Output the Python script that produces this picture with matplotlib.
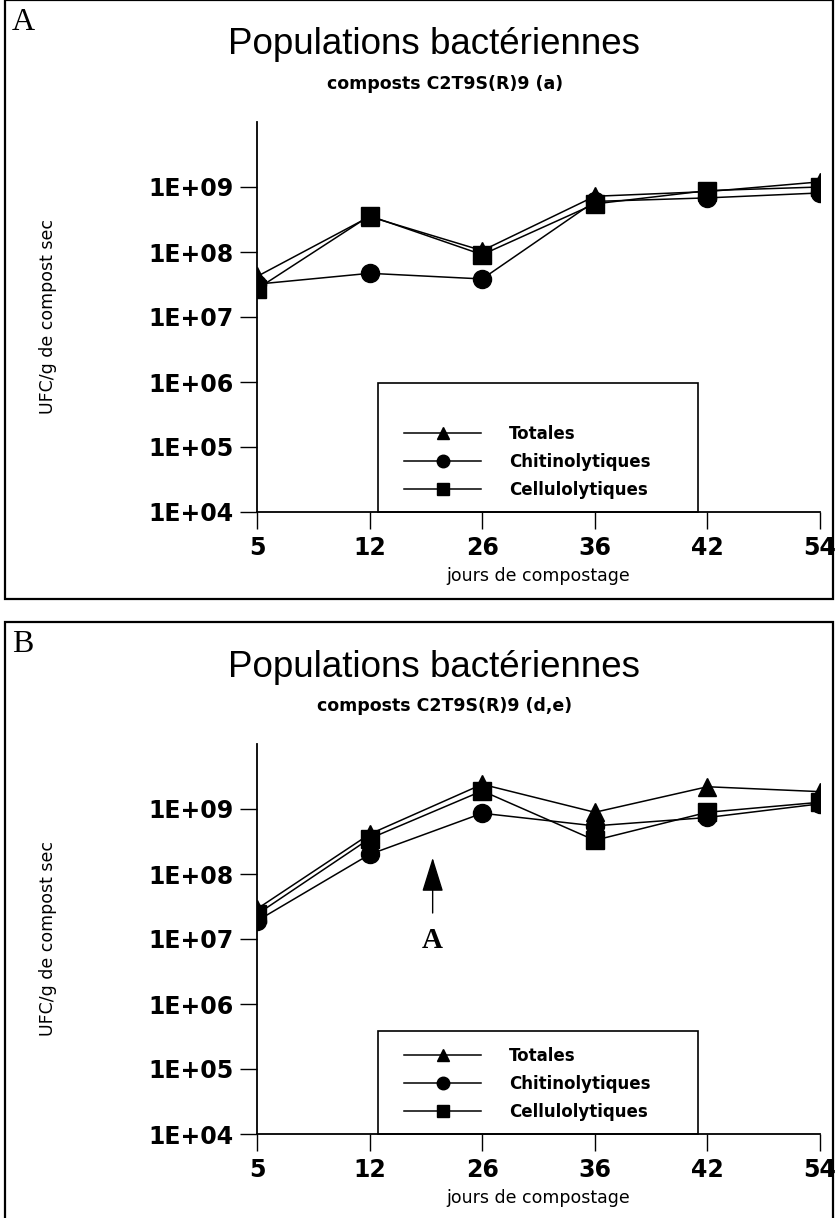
import matplotlib.pyplot as plt
from matplotlib.patches import Rectangle
from matplotlib.lines import Line2D
import numpy as np

################### Données #######################
jours = ['5', '12', '26', '36', '42', '54']
series = ['Totales', 'Chitinolytiques', 'Cellulolytiques']
marqueurs = ['^', 'o', 's']

# panneau A : composts C2T9S(R)9 (a)
totales_a = [4.2e7, 3.5e8, 1.05e8, 7.2e8, 8.5e8, 1.2e9]
chitino_a = [3.2e7, 4.7e7, 3.85e7, 6.0e8, 6.8e8, 8.1e8]
cellulo_a = [2.7e7, 3.6e8, 9.1e7, 5.5e8, 8.8e8, 1.0e9]

# panneau B : composts C2T9S(R)9 (d,e)
totales_b = [2.9e7, 4.1e8, 2.4e9, 8.9e8, 2.2e9, 1.85e9]
chitino_b = [1.9e7, 2.0e8, 8.6e8, 5.5e8, 7.4e8, 1.2e9]
cellulo_b = [2.4e7, 3.5e8, 1.9e9, 3.3e8, 8.9e8, 1.27e9]

yticks = [1e4, 1e5, 1e6, 1e7, 1e8, 1e9]
ytick_labels = ['1E+04', '1E+05', '1E+06', '1E+07', '1E+08', '1E+09']

W, H = 835, 1218
fig = plt.figure(figsize=(W / 100, H / 100), dpi=100)


def fx(px):
    return px / W


def fy(px):
    return 1 - px / H


def panneau(top, lettre, sous_titre, valeurs, fleche=False):
    # cadre du panneau
    fig.add_artist(Rectangle((fx(5), fy(top + 599)), fx(828), 599 / H,
                             fill=False, lw=1.6, ec='black',
                             transform=fig.transFigure))
    fig.text(fx(12), fy(top + 22), lettre, family='Liberation Serif',
             fontsize=23, va='center', ha='left')
    fig.text(fx(434), fy(top + 45), 'Populations bactériennes',
             family='Liberation Sans', fontsize=26.5, va='center', ha='center')
    fig.text(fx(445), fy(top + 84), sous_titre, family='DejaVu Sans',
             weight='bold', fontsize=12.5, va='center', ha='center')

    ax = fig.add_axes([fx(257), fy(top + 512), fx(563), (512 - 122) / H])
    x = np.arange(len(jours))
    for v, m in zip(valeurs, marqueurs):
        ax.plot(x, v, color='black', lw=1.1, marker=m, ms=13,
                mfc='black', mec='black')
    ax.set_yscale('log')
    ax.set_ylim(1e4, 1e10)
    ax.set_xlim(0, 5)
    ax.set_yticks(yticks)
    ax.set_yticklabels(ytick_labels)
    ax.minorticks_off()
    ax.set_xticks(x)
    ax.set_xticklabels(jours)
    for s in ['top', 'right']:
        ax.spines[s].set_visible(False)
    for s in ['left', 'bottom']:
        ax.spines[s].set_linewidth(1.3)
        ax.spines[s].set_zorder(5)
    ax.tick_params(length=12, width=1.0, pad=5, labelsize=17)
    for t in ax.get_xticklabels() + ax.get_yticklabels():
        t.set_family('DejaVu Sans')
        t.set_weight('bold')
    ax.set_xlabel('jours de compostage', family='DejaVu Sans', fontsize=12.5,
                  labelpad=5)
    ax.set_ylabel('UFC/g de compost sec', family='DejaVu Sans', fontsize=12.5)
    ax.yaxis.set_label_coords(-0.355, 0.5)

    # légende encadrée
    ax.add_patch(Rectangle((0.215, 0.0), 0.568, 0.33 if not fleche else 0.265,
                           transform=ax.transAxes, fill=False, lw=1.2,
                           ec='black', zorder=4, clip_on=False))
    poignees = [Line2D([], [], color='black', lw=1.1, marker=m, ms=9)
                for m in marqueurs]
    ax.legend(poignees, series, loc='lower left',
              bbox_to_anchor=(0.235, -0.005), frameon=False,
              handlelength=4.6, handletextpad=1.7, labelspacing=0.6,
              prop={'family': 'DejaVu Sans', 'weight': 'bold', 'size': 12})

    if fleche:
        ax.annotate('', xy=(1.56, 10 ** 8.25), xytext=(1.56, 10 ** 7.4),
                    arrowprops=dict(arrowstyle='-|>,head_length=1.35,head_width=0.42',
                                    color='black', lw=1.0, mutation_scale=16,
                                    shrinkA=0, shrinkB=0))
        ax.text(1.56, 10 ** 7.18, 'A', family='Liberation Serif', weight='bold',
                fontsize=21, ha='center', va='top')
    return ax


panneau(0, 'A', 'composts C2T9S(R)9 (a)', [totales_a, chitino_a, cellulo_a])
panneau(622, 'B', 'composts C2T9S(R)9 (d,e)', [totales_b, chitino_b, cellulo_b],
        fleche=True)

fig.savefig('out.png', dpi=100)
